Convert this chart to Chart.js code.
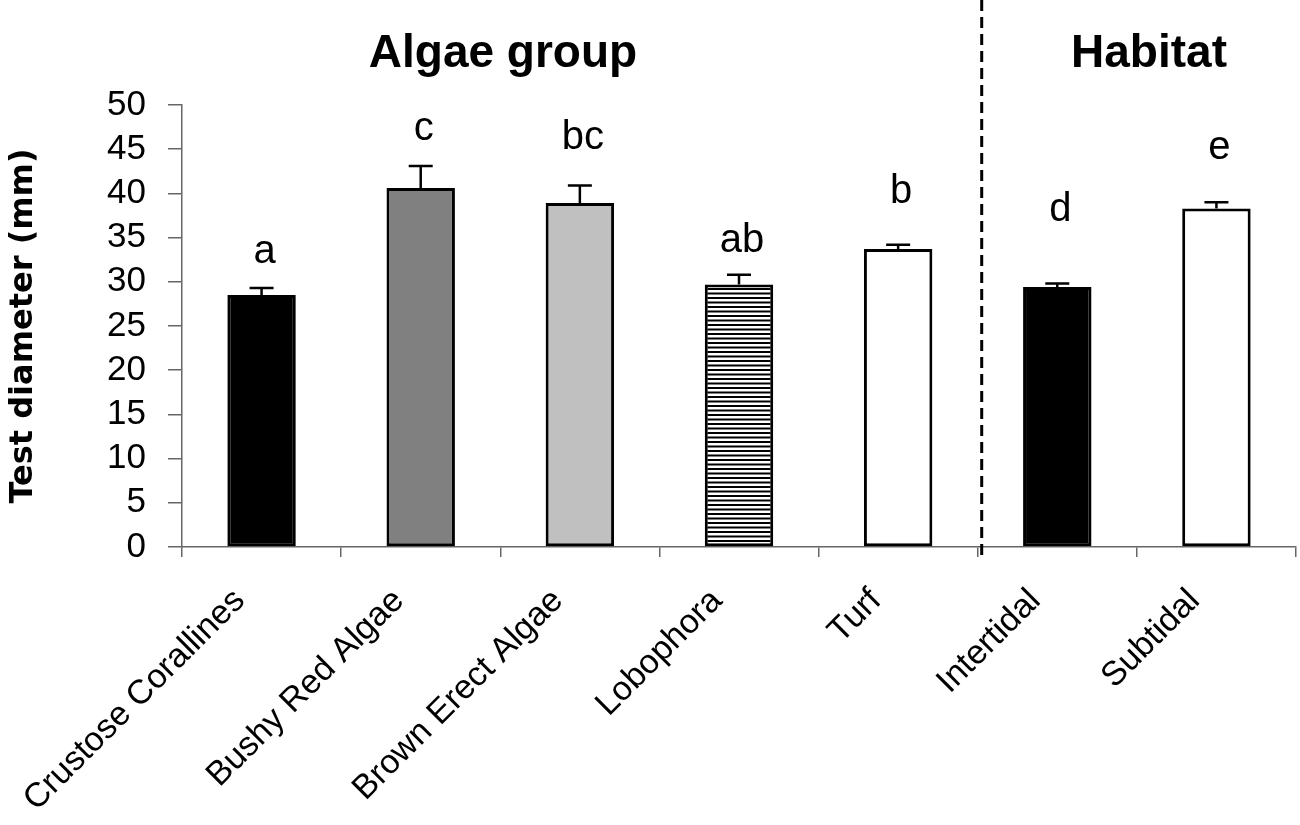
<!DOCTYPE html>
<html>
<head>
<meta charset="utf-8">
<script src="https://cdn.jsdelivr.net/npm/chart.js@4.4.1/dist/chart.umd.min.js"></script>
<style>
  html, body { margin: 0; padding: 0; background: #fff; }
  #wrap { width: 1300px; height: 825px; }
</style>
</head>
<body>
<div id="wrap"><canvas id="chart" width="1300" height="825"></canvas></div>
<script>
// values
const categories = ['Crustose Corallines', 'Bushy Red Algae', 'Brown Erect Algae', 'Lobophora', 'Turf', 'Intertidal', 'Subtidal'];
const means = [28.5, 40.6, 38.9, 29.7, 33.7, 29.4, 38.3];
const errors = [0.8, 2.5, 2.0, 1.1, 0.5, 0.4, 0.7];
const letters = ['a', 'c', 'bc', 'ab', 'b', 'd', 'e'];
const letterY = [32.1, 46.0, 45.0, 33.4, 38.9, 36.9, 43.9];
const groupTitles = ['Algae group', 'Habitat'];

// horizontal stripes for Lobophora
function stripes() {
    const c = document.createElement('canvas');
    c.width = 8; c.height = 9;
    const g = c.getContext('2d');
    g.fillStyle = '#fff';
    g.fillRect(0, 0, 8, 9);
    g.fillStyle = '#000';
    g.fillRect(0, 0, 8, 2);
    g.fillRect(0, 4.5, 8, 2);
    return g.createPattern(c, 'repeat');
}

const fills = ['#000000', '#808080', '#c0c0c0', stripes(), '#ffffff', '#000000', '#ffffff'];

const extras = {
    id: 'extras',
    afterDatasetsDraw(chart) {
        const ctx = chart.ctx;
        const y = chart.scales.y;
        const bars = chart.getDatasetMeta(0).data;
        ctx.save();
        // upper error bars
        ctx.strokeStyle = '#000';
        ctx.lineWidth = 2.5;
        bars.forEach((bar, i) => {
            const y0 = y.getPixelForValue(means[i]);
            const y1 = y.getPixelForValue(means[i] + errors[i]);
            ctx.beginPath();
            ctx.moveTo(bar.x, y0);
            ctx.lineTo(bar.x, y1);
            ctx.moveTo(bar.x - 12, y1);
            ctx.lineTo(bar.x + 12, y1);
            ctx.stroke();
        });
        // significance letters
        ctx.fillStyle = '#000';
        ctx.font = '40px "Liberation Sans", Arial, sans-serif';
        ctx.textAlign = 'center';
        ctx.textBaseline = 'alphabetic';
        bars.forEach((bar, i) => {
            ctx.fillText(letters[i], bar.x + 3, y.getPixelForValue(letterY[i]));
        });
        // dashed separator between algae and habitat
        const sepX = (bars[4].x + bars[5].x) / 2 + 4;
        ctx.setLineDash([11, 6]);
        ctx.lineWidth = 3;
        ctx.beginPath();
        ctx.moveTo(sepX, 0);
        ctx.lineTo(sepX, y.bottom + 14);
        ctx.stroke();
        ctx.setLineDash([]);
        // group headings
        ctx.font = 'bold 46px "Liberation Sans", Arial, sans-serif';
        ctx.fillText(groupTitles[0], 503, 67);
        ctx.fillText(groupTitles[1], 1149, 67);
        ctx.restore();
    }
};

Chart.defaults.font.family = '"Liberation Sans", Arial, sans-serif';
Chart.defaults.color = '#000';

new Chart(document.getElementById('chart'), {
    type: 'bar',
    data: {
        labels: categories,
        datasets: [{
            data: means,
            backgroundColor: fills,
            borderColor: '#000',
            borderWidth: 3,
            borderSkipped: false,
            barPercentage: 0.43,
            categoryPercentage: 1
        }]
    },
    options: {
        responsive: false,
        animation: false,
        devicePixelRatio: 1,
        layout: { padding: { top: 105, right: 4, left: 0, bottom: 0 } },
        plugins: {
            legend: { display: false },
            tooltip: { enabled: false }
        },
        scales: {
            x: {
                afterFit: s => { s.height = 278; },
                grid: {
                    drawOnChartArea: false,
                    tickLength: 10,
                    color: '#666',
                    lineWidth: 1.5
                },
                border: { color: '#666', width: 1.5 },
                ticks: {
                    maxRotation: 45,
                    minRotation: 45,
                    padding: 24,
                    labelOffset: -22,
                    font: { size: 34 }
                }
            },
            y: {
                min: 0,
                max: 50,
                afterFit: s => { s.width = 182; },
                grid: {
                    drawOnChartArea: false,
                    tickLength: 14,
                    color: '#666',
                    lineWidth: 1.5
                },
                border: { color: '#666', width: 1.5 },
                ticks: {
                    stepSize: 5,
                    autoSkip: false,
                    padding: 22,
                    font: { size: 35 }
                },
                title: {
                    display: true,
                    text: 'Test diameter (mm)',
                    font: { size: 32, weight: 'bold', family: '"DejaVu Sans", sans-serif' },
                    padding: { top: 4, bottom: 0 }
                }
            }
        }
    },
    plugins: [extras]
});
</script>
</body>
</html>
